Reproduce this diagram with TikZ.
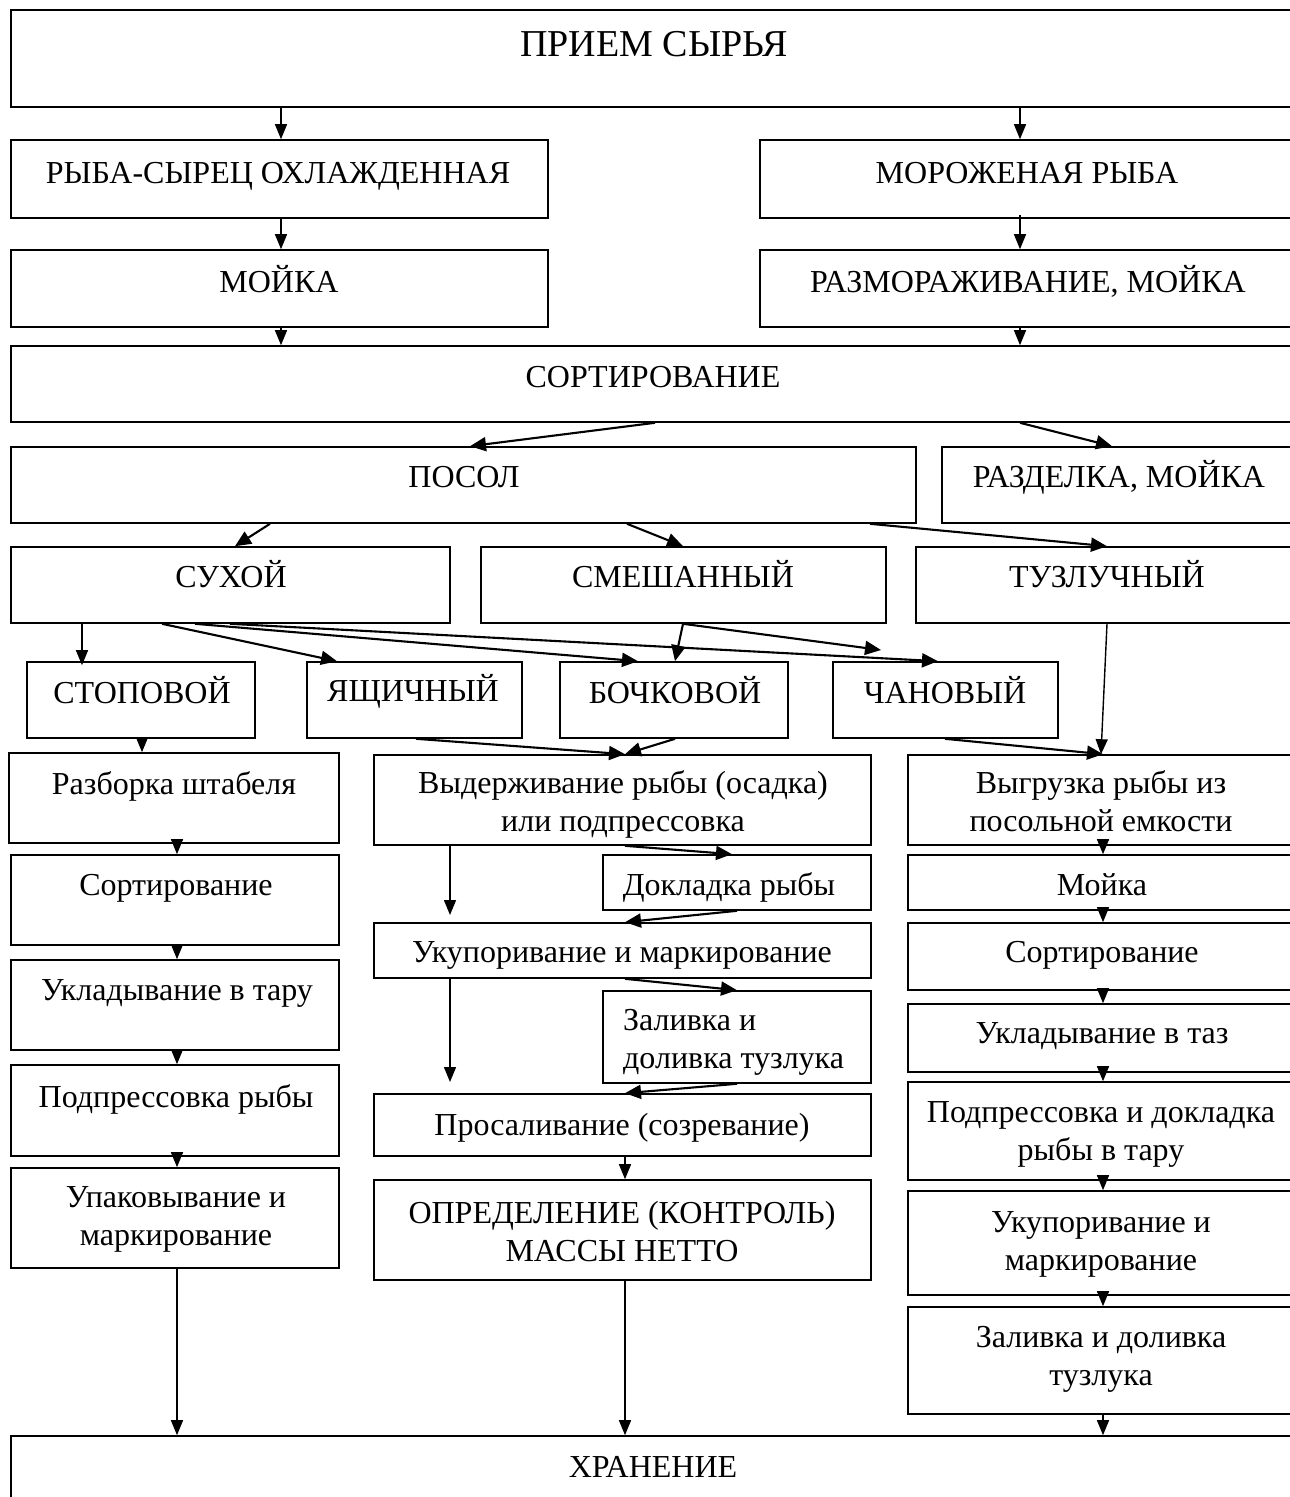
\documentclass[tikz,border=0pt]{standalone}
\usepackage{fontspec}
\setmainfont{Liberation Serif}
\usetikzlibrary{arrows.meta,fit}
\begin{document}
\begin{tikzpicture}[x=1pt,y=-1pt,
  box/.style={draw,line width=1.6pt,inner sep=0pt,fit={#1}},
  txt/.style={anchor=base,inner sep=0pt,align=center,font=\fontsize{32}{37.5}\selectfont},
  ltxt/.style={anchor=base west,inner sep=0pt,align=left,font=\fontsize{32}{37.5}\selectfont},
  arr/.style={line width=1.4pt,-{Triangle[length=15pt,width=12pt]}},
  sarr/.style={line width=2.1pt,-{Triangle[length=16pt,width=14pt]}}]
\useasboundingbox (0,0) rectangle (1290,1497);
\clip (0,0) rectangle (1290,1497);
% boxes
\node[box={(11,10) (1297,107)}] (priem) {};
\node[box={(11,140) (548,218)}] (ryba) {};
\node[box={(760,140) (1297,218)}] (moroz) {};
\node[box={(11,250) (548,327)}] (moika) {};
\node[box={(760,250) (1297,327)}] (razmor) {};
\node[box={(11,346) (1297,422)}] (sort) {};
\node[box={(11,447) (916,523)}] (posol) {};
\node[box={(942,447) (1297,523)}] (razdel) {};
\node[box={(11,547) (450,623)}] (suhoi) {};
\node[box={(481,547) (886,623)}] (smesh) {};
\node[box={(916,547) (1297,623)}] (tuzl) {};
\node[box={(27,662) (255,738)}] (stop) {};
\node[box={(307,662) (522,738)}] (yash) {};
\node[box={(560,662) (788,738)}] (boch) {};
\node[box={(833,662) (1058,738)}] (chan) {};
\node[box={(9,753) (339,843)}] (razb) {};
\node[box={(374,755) (871,845)}] (vyder) {};
\node[box={(908,755) (1297,845)}] (vygr) {};
\node[box={(11,855) (339,945)}] (sortL) {};
\node[box={(603,855) (871,910)}] (dokl) {};
\node[box={(908,855) (1297,910)}] (moikaR) {};
\node[box={(374,923) (871,978)}] (ukupM) {};
\node[box={(908,923) (1297,990)}] (sortR) {};
\node[box={(11,960) (339,1050)}] (uklT) {};
\node[box={(603,991) (871,1083)}] (zaliv) {};
\node[box={(908,1004) (1297,1072)}] (uklTaz) {};
\node[box={(11,1065) (339,1156)}] (podpr) {};
\node[box={(374,1094) (871,1156)}] (prosal) {};
\node[box={(908,1082) (1297,1180)}] (podprR) {};
\node[box={(11,1168) (339,1268)}] (upak) {};
\node[box={(374,1180) (871,1280)}] (opred) {};
\node[box={(908,1191) (1297,1295)}] (ukupR) {};
\node[box={(908,1307) (1297,1414)}] (zalivR) {};
\node[box={(11,1436) (1297,1515)}] (hran) {};
% texts (multi-line: base = last line)
\node[txt,font=\fontsize{38}{44}\selectfont] (tpriem) at (654,56) {ПРИЕМ СЫРЬЯ};
\node[txt] (tryba) at (278,183) {РЫБА-СЫРЕЦ ОХЛАЖДЕННАЯ};
\node[txt] (tmoroz) at (1027,183) {МОРОЖЕНАЯ РЫБА};
\node[txt] (tmoika) at (279,292) {МОЙКА};
\node[txt] (trazmor) at (1028,292) {РАЗМОРАЖИВАНИЕ, МОЙКА};
\node[txt] (tsort) at (653,387) {СОРТИРОВАНИЕ};
\node[txt] (tposol) at (464,487) {ПОСОЛ};
\node[txt] (trazdel) at (1119,487) {РАЗДЕЛКА, МОЙКА};
\node[txt] (tsuhoi) at (231,587) {СУХОЙ};
\node[txt] (tsmesh) at (683,587) {СМЕШАННЫЙ};
\node[txt] (ttuzl) at (1107,587) {ТУЗЛУЧНЫЙ};
\node[txt] (tstop) at (142,703) {СТОПОВОЙ};
\node[txt] (tyash) at (413,701) {ЯЩИЧНЫЙ};
\node[txt] (tboch) at (675,703) {БОЧКОВОЙ};
\node[txt] (tchan) at (945,703) {ЧАНОВЫЙ};
\node[txt] (trazb) at (174,794) {Разборка штабеля};
\node[txt] (tvyder) at (623,831) {Выдерживание рыбы (осадка)\\или подпрессовка};
\node[txt] (tvygr) at (1101,831) {Выгрузка рыбы из\\посольной емкости};
\node[txt] (tsortL) at (176,895) {Сортирование};
\node[txt] (tdokl) at (729,895) {Докладка рыбы};
\node[txt] (tmoikaR) at (1102,895) {Мойка};
\node[txt] (tukupM) at (622,962) {Укупоривание и маркирование};
\node[txt] (tsortR) at (1102,962) {Сортирование};
\node[txt] (tuklT) at (177,1000) {Укладывание в тару};
\node[ltxt] (tzaliv) at (623,1068) {Заливка и\\доливка тузлука};
\node[txt] (tuklTaz) at (1102,1043) {Укладывание в таз};
\node[txt] (tpodpr) at (176,1107) {Подпрессовка рыбы};
\node[txt] (tprosal) at (622,1135) {Просаливание (созревание)};
\node[txt] (tpodprR) at (1101,1160) {Подпрессовка и докладка\\рыбы в тару};
\node[txt] (tupak) at (176,1245) {Упаковывание и\\маркирование};
\node[txt] (topred) at (622,1261) {ОПРЕДЕЛЕНИЕ (КОНТРОЛЬ)\\МАССЫ НЕТТО};
\node[txt] (tukupR) at (1101,1270) {Укупоривание и\\маркирование};
\node[txt] (tzalivR) at (1101,1385) {Заливка и доливка\\тузлука};
\node[txt] (thran) at (653,1477) {ХРАНЕНИЕ};
% free ends
\coordinate (chanIn) at (881,650);
\coordinate (leftA) at (450,915);
\coordinate (leftB) at (450,1082);
% arrows
\draw[arr] (priem.south-|281,0) -- (ryba.north-|281,0);
\draw[arr] (priem.south-|1020,0) -- (moroz.north-|1020,0);
\draw[arr] (ryba.south-|281,0) -- (moika.north-|281,0);
\draw[arr] ([yshift=4pt]moroz.south-|1020,0) -- (razmor.north-|1020,0);
\draw[arr] (moika.south-|281,0) -- (sort.north-|281,0);
\draw[arr] (razmor.south-|1020,0) -- (sort.north-|1020,0);
\draw[sarr] (sort.south-|655,0) -- (posol.north-|470,0);
\draw[sarr] (sort.south-|1020,0) -- (razdel.north-|1112,0);
\draw[sarr] (posol.south-|270,0) -- (suhoi.north-|235,0);
\draw[sarr] (posol.south-|627,0) -- (smesh.north-|683,0);
\draw[sarr] (posol.south-|870,0) -- (tuzl.north-|1107,0);
\draw[arr] (suhoi.south-|82,0) -- ([yshift=-4pt]stop.north-|82,0);
\draw[sarr] (suhoi.south-|162,0) -- (yash.north-|337,0);
\draw[sarr] (suhoi.south-|195,0) -- (boch.north-|638,0);
\draw[sarr] (suhoi.south-|230,0) -- (chan.north-|938,0);
\draw[sarr] (smesh.south-|683,0) -- (boch.north-|675,0);
\draw[sarr] (smesh.south-|683,0) -- (chanIn);
\draw[arr] (tuzl.south-|1107,0) -- (vygr.north-|1101,0);
\draw[arr] (stop.south-|142,0) -- (razb.north-|142,0);
\draw[sarr] (yash.south-|416,0) -- (vyder.north-|625,0);
\draw[sarr] (boch.south-|675,0) -- (vyder.north-|625,0);
\draw[sarr] (chan.south-|945,0) -- (vygr.north-|1103,0);
\draw[arr] (razb.south-|177,0) -- (sortL.north-|177,0);
\draw[sarr] (vyder.south-|625,0) -- (dokl.north-|732,0);
\draw[arr] (vyder.south-|450,0) -- (leftA);
\draw[arr] (vygr.south-|1103,0) -- (moikaR.north-|1103,0);
\draw[sarr] (dokl.south-|737,0) -- (ukupM.north-|625,0);
\draw[arr] (sortL.south-|177,0) -- (uklT.north-|177,0);
\draw[arr] (moikaR.south-|1103,0) -- (sortR.north-|1103,0);
\draw[arr] (ukupM.south-|450,0) -- (leftB);
\draw[sarr] (ukupM.south-|625,0) -- (zaliv.north-|737,0);
\draw[arr] (sortR.south-|1103,0) -- (uklTaz.north-|1103,0);
\draw[arr] (uklT.south-|177,0) -- (podpr.north-|177,0);
\draw[sarr] (zaliv.south-|737,0) -- (prosal.north-|625,0);
\draw[arr] (uklTaz.south-|1103,0) -- (podprR.north-|1103,0);
\draw[arr] (prosal.south-|625,0) -- (opred.north-|625,0);
\draw[arr] (podpr.south-|177,0) -- (upak.north-|177,0);
\draw[arr] (podprR.south-|1103,0) -- (ukupR.north-|1103,0);
\draw[arr] (ukupR.south-|1103,0) -- (zalivR.north-|1103,0);
\draw[arr] (upak.south-|177,0) -- (hran.north-|177,0);
\draw[arr] (opred.south-|625,0) -- (hran.north-|625,0);
\draw[arr] (zalivR.south-|1103,0) -- (hran.north-|1103,0);
\end{tikzpicture}
\end{document}
